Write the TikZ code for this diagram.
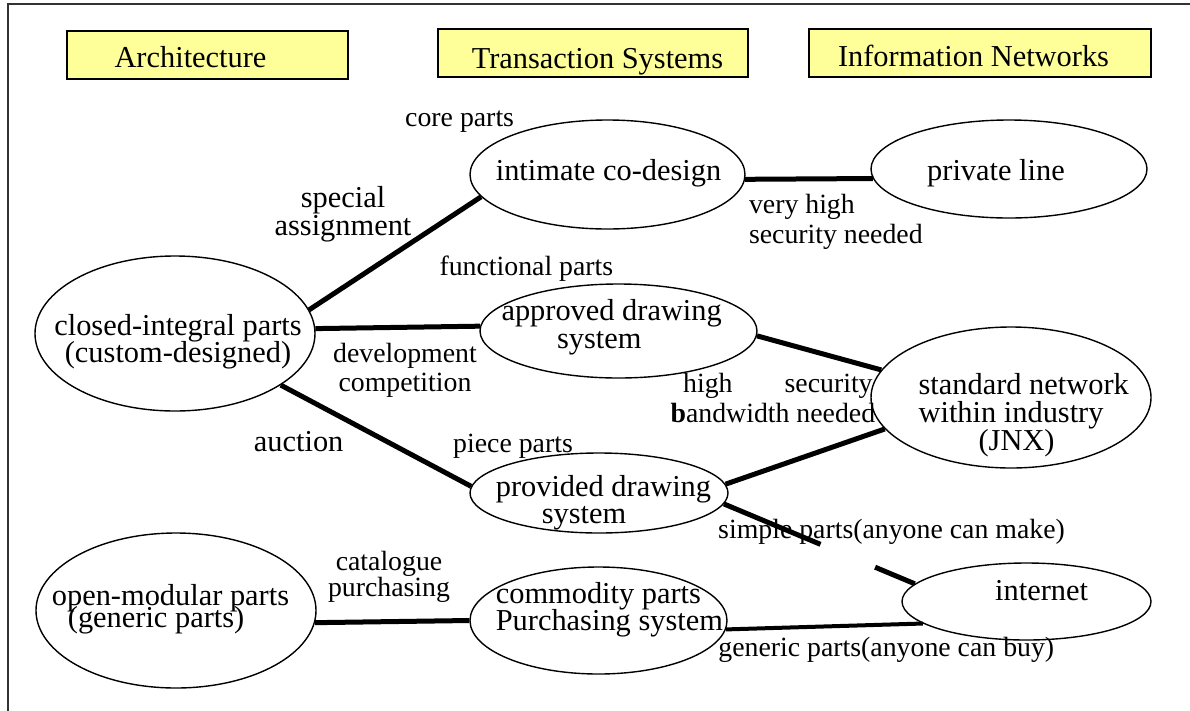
\documentclass[tikz,border=0pt]{standalone}
\usepackage{fontspec}
\setmainfont{Liberation Serif}
\usetikzlibrary{shapes.geometric,calc}
\definecolor{hdrfill}{RGB}{255,255,153}
\definecolor{framecol}{RGB}{50,50,50}
\begin{document}
\begin{tikzpicture}[x=1pt,y=-1pt,
  big/.style={font=\fontsize{30.4}{28}\selectfont, inner sep=0pt},
  small/.style={font=\fontsize{27.8}{30}\selectfont, inner sep=0pt},
  oval/.style={draw, ellipse, line width=1.4pt, inner sep=0pt},
  hdr/.style={draw=black, fill=hdrfill, line width=1.6pt, inner sep=0pt, minimum height=48pt},
  conn/.style={line width=5pt},
]
\useasboundingbox (0,0) rectangle (1190,710);
\draw[framecol, line width=2pt] (7.7,712) -- (7.7,4) -- (1192,4);

% header boxes
\node[hdr, minimum width=281pt] (harch) at (207.5,55) {};
\node[big, anchor=base] (tarch) at (190.5,67) {Architecture};
\node[hdr, minimum width=310pt] (htrans) at (593,53) {};
\node[big, anchor=base] (ttrans) at (597.5,68) {Transaction Systems};
\node[hdr, minimum width=342pt] (hinfo) at (980,53) {};
\node[big, anchor=base] (tinfo) at (973.5,66) {Information Networks};

% ellipses
\node[oval, minimum width=275pt, minimum height=109pt] (cod) at (607.5,174.5) {};
\node[oval, minimum width=276pt, minimum height=98pt] (pl) at (1009,169) {};
\node[oval, minimum width=280pt, minimum height=155pt] (cip) at (175,333.5) {};
\node[oval, minimum width=277pt, minimum height=94pt] (ads) at (618.5,331) {};
\node[oval, minimum width=280pt, minimum height=141pt] (sn) at (1011,397.5) {};
\node[oval, minimum width=258pt, minimum height=80pt] (pds) at (599,493) {};
\node[oval, minimum width=280pt, minimum height=155pt] (omp) at (176,610.5) {};
\node[oval, minimum width=257pt, minimum height=107pt] (cps) at (598.5,620.5) {};
\node[oval, minimum width=249pt, minimum height=77pt] (inet) at (1026.5,601.5) {};

% texts in ellipses (multi-line nodes: base = last line)
\node[big, anchor=base west] (tcod) at (495.6,180) {intimate co-design};
\node[big, anchor=base west] (tpl) at (927,180) {private line};
\node[big, anchor=base, align=center] (tcip) at (178,362) {closed-integral parts\\[-1pt](custom-designed)};
\node[big, anchor=base west, align=left] (tads) at (501.3,348) {approved drawing\\\hspace*{55.5pt}system};
\node[big, anchor=base west, align=left] (tsn) at (918.4,450) {standard network\\within industry\\\hspace*{60pt}(JNX)};
\node[big, anchor=base west, align=left] (tpds) at (495.6,523.3) {provided drawing\\[-1.4pt]\hspace*{46pt}system};
\node[big, anchor=base west, align=left] (tomp) at (51.7,627) {open-modular parts\\[-6pt]\hspace*{16pt}(generic parts)};
\node[big, anchor=base west, align=left] (tcps) at (495.6,630) {commodity parts\\[-1.3pt]Purchasing system};
\node[big, anchor=base west] (tinet) at (995,600) {internet};

% connector labels
\node[small, anchor=base west] (tcore) at (405,126) {core parts};
\node[big, anchor=base, align=center] (tsa) at (343,235) {special\\assignment};
\node[small, anchor=base west, align=left] (tvh) at (748.8,243) {very high\\security needed};
\node[small, anchor=base west] (tfp) at (439.3,275) {functional parts};
\node[small, anchor=base, align=center] (tdc) at (405,391) {development\\[-1pt]competition};
\node[big, anchor=base west] (tauc) at (253.7,451.7) {auction};
\node[small, anchor=base west] (tpp) at (453,452) {piece parts};
\node[small, anchor=base west, align=left] (thb) at (670.4,422.3) {\hspace*{12.6pt}high\hspace*{52pt}security\\\textbf{b}andwidth needed};
\node[small, anchor=base west] (tsp) at (718,538.3) {simple parts(anyone can make)};
\node[small, anchor=base, align=center] (tcat) at (389,596.7) {catalogue\\[-3.3pt]purchasing};
\node[small, anchor=base west] (tgp) at (718.2,656.7) {generic parts(anyone can buy)};

% connectors
\draw[conn] (cip.10) -- (cod.190.9);
\draw[conn] (cip.2.8) -- (ads.178.2);
\draw[conn] (cip.-26) -- (pds.177.2);
\draw[conn] (cod.-2) -- (pl.184.3);
\draw[conn] (ads.-2.9) -- (sn.168.8);
\draw[conn] (pds.4.7) -- (sn.194.9);
\draw[conn] (pds.-5.7) -- ($(pds.-5.7)!0.506!(inet.171.4)$);
\draw[conn] ($(pds.-5.7)!0.792!(inet.171.4)$) -- (inet.171.4);
\draw[conn] (omp.-5.9) -- (cps.180.5);
\draw[conn, line width=4pt] (cps.-4.6) -- (inet.192.7);
\end{tikzpicture}
\end{document}
